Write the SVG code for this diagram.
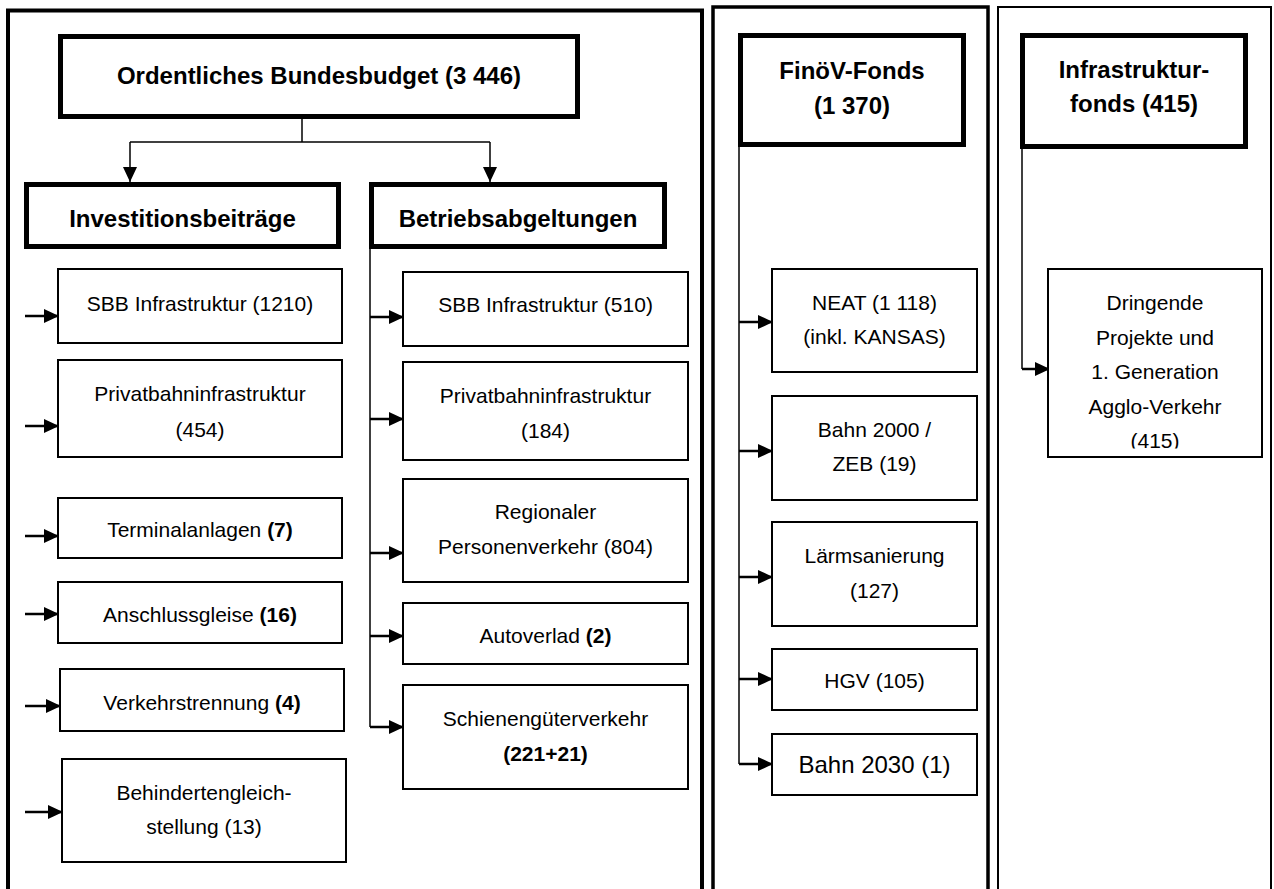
<svg xmlns="http://www.w3.org/2000/svg" width="1274" height="889" viewBox="0 0 1274 889">
<defs>
<marker id="ah" markerUnits="userSpaceOnUse" markerWidth="16" markerHeight="15" refX="15" refY="7" orient="auto">
<path d="M0,0 L15,7 L0,14 Z" fill="#000"/>
</marker>
<clipPath id="clip415"><rect x="1048" y="269" width="214" height="179.5"/></clipPath>
</defs>
<style>
.panel{fill:none;stroke:#000}
.hdr{fill:#fff;stroke:#000;stroke-width:5}
.box{fill:#fff;stroke:#000;stroke-width:2}
.t{font-family:"Liberation Sans",Arial,sans-serif;font-size:21px;fill:#000;text-anchor:middle}
.tb{font-family:"Liberation Sans",Arial,sans-serif;font-size:24px;font-weight:bold;fill:#000;text-anchor:middle}
.b{font-weight:bold}
.ln{fill:none;stroke:#000;stroke-width:1.5}
.ar{fill:none;stroke:#000;stroke-width:2.5;marker-end:url(#ah)}
</style>
<rect width="1274" height="889" fill="#fff"/>
<g id="panels">
<rect class="panel" x="8" y="10.5" width="694" height="920" stroke-width="4"/>
<rect class="panel" x="713" y="7" width="275" height="920" stroke-width="3.5"/>
<rect class="panel" x="998" y="7" width="273" height="920" stroke-width="2"/>
</g>
<g id="connectors">
<polyline class="ln" points="302,119 302,142"/>
<polyline class="ln" points="130,142 490,142"/>
<polyline class="ar" points="130,142 130,182" style="stroke-width:1.5"/>
<polyline class="ar" points="490,142 490,182" style="stroke-width:1.5"/>
<line class="ar" x1="25" y1="316" x2="59" y2="316"/>
<line class="ar" x1="25" y1="426" x2="59" y2="426"/>
<line class="ar" x1="25" y1="536" x2="59" y2="536"/>
<line class="ar" x1="25" y1="614" x2="59" y2="614"/>
<line class="ar" x1="25" y1="706" x2="61" y2="706"/>
<line class="ar" x1="25" y1="812" x2="63" y2="812"/>
<polyline class="ln" points="370,249 370,727"/>
<line class="ar" x1="370" y1="317" x2="404" y2="317"/>
<line class="ar" x1="370" y1="419" x2="404" y2="419"/>
<line class="ar" x1="370" y1="553" x2="404" y2="553"/>
<line class="ar" x1="370" y1="636" x2="404" y2="636"/>
<line class="ar" x1="370" y1="727" x2="404" y2="727"/>
<polyline class="ln" points="739,147 739,764"/>
<line class="ar" x1="739" y1="322" x2="773" y2="322"/>
<line class="ar" x1="739" y1="451" x2="773" y2="451"/>
<line class="ar" x1="739" y1="577" x2="773" y2="577"/>
<line class="ar" x1="739" y1="679" x2="773" y2="679"/>
<line class="ar" x1="739" y1="764" x2="773" y2="764"/>
<polyline class="ln" points="1022,149 1022,369"/>
<line class="ar" x1="1022" y1="369" x2="1050" y2="369"/>
</g>
<g id="n-bundesbudget"><rect class="hdr" x="60.5" y="36.5" width="517" height="80"/><text class="tb" x="319" y="84">Ordentliches Bundesbudget (3 446)</text></g>
<g id="n-investition"><rect class="hdr" x="26.5" y="184.5" width="312" height="62"/><text class="tb" x="182.5" y="227">Investitionsbeiträge</text></g>
<g id="n-betrieb"><rect class="hdr" x="371.5" y="184.5" width="293" height="62"/><text class="tb" x="518" y="227">Betriebsabgeltungen</text></g>
<g id="n-sbb1210"><rect class="box" x="58" y="269" width="284" height="74"/><text class="t" x="200" y="310.5">SBB Infrastruktur (1210)</text></g>
<g id="n-privat454"><rect class="box" x="58" y="360" width="284" height="97"/><text class="t" x="200" y="400.5">Privatbahninfrastruktur</text><text class="t" x="200" y="436.5">(454)</text></g>
<g id="n-terminal"><rect class="box" x="58" y="498" width="284" height="60"/><text class="t" x="200" y="536.5">Terminalanlagen <tspan class="b">(7)</tspan></text></g>
<g id="n-anschluss"><rect class="box" x="58" y="582" width="284" height="61"/><text class="t" x="200" y="621.5">Anschlussgleise <tspan class="b">(16)</tspan></text></g>
<g id="n-verkehrstrennung"><rect class="box" x="60" y="669" width="284" height="62"/><text class="t" x="202" y="709.5">Verkehrstrennung <tspan class="b">(4)</tspan></text></g>
<g id="n-behinderten"><rect class="box" x="62" y="759" width="284" height="103"/><text class="t" x="204" y="799.5">Behindertengleich-</text><text class="t" x="204" y="833.5">stellung (13)</text></g>
<g id="n-sbb510"><rect class="box" x="403" y="272" width="285" height="74"/><text class="t" x="545.5" y="311.5">SBB Infrastruktur (510)</text></g>
<g id="n-privat184"><rect class="box" x="403" y="362" width="285" height="98"/><text class="t" x="545.5" y="402.5">Privatbahninfrastruktur</text><text class="t" x="545.5" y="437.5">(184)</text></g>
<g id="n-regional"><rect class="box" x="403" y="479" width="285" height="103"/><text class="t" x="545.5" y="518.5">Regionaler</text><text class="t" x="545.5" y="553.5">Personenverkehr (804)</text></g>
<g id="n-autoverlad"><rect class="box" x="403" y="603" width="285" height="61"/><text class="t" x="545.5" y="642.5">Autoverlad <tspan class="b">(2)</tspan></text></g>
<g id="n-schiene"><rect class="box" x="403" y="685" width="285" height="104"/><text class="t" x="545.5" y="725.5">Schienengüterverkehr</text><text class="t b" x="545.5" y="760.5">(221+21)</text></g>
<g id="n-finoev"><rect class="hdr" x="740.5" y="35.5" width="223" height="109"/><text class="tb" x="852" y="78.6">FinöV-Fonds</text><text class="tb" x="852" y="113.6">(1 370)</text></g>
<g id="n-neat"><rect class="box" x="772" y="269" width="205" height="103"/><text class="t" x="874.5" y="309.5">NEAT (1 118)</text><text class="t" x="874.5" y="343.5">(inkl. KANSAS)</text></g>
<g id="n-bahn2000"><rect class="box" x="772" y="396" width="205" height="104"/><text class="t" x="874.5" y="436.5">Bahn 2000 /</text><text class="t" x="874.5" y="470.5">ZEB (19)</text></g>
<g id="n-laerm"><rect class="box" x="772" y="522" width="205" height="104"/><text class="t" x="874.5" y="562.5">Lärmsanierung</text><text class="t" x="874.5" y="597.5">(127)</text></g>
<g id="n-hgv"><rect class="box" x="772" y="649" width="205" height="61"/><text class="t" x="874.5" y="687.5">HGV (105)</text></g>
<g id="n-bahn2030"><rect class="box" x="772" y="734" width="205" height="61"/><text class="t" x="874.5" y="772.6" style="font-size:24px">Bahn 2030 (1)</text></g>
<g id="n-infrafonds"><rect class="hdr" x="1022.5" y="35.5" width="223" height="111"/><text class="tb" x="1134" y="77.6">Infrastruktur-</text><text class="tb" x="1134" y="111.6">fonds (415)</text></g>
<g id="n-dringend"><rect class="box" x="1048" y="269" width="214" height="188"/><g clip-path="url(#clip415)"><text class="t" x="1155" y="309.5">Dringende</text><text class="t" x="1155" y="344.5">Projekte und</text><text class="t" x="1155" y="378.5">1. Generation</text><text class="t" x="1155" y="413.5">Agglo-Verkehr</text><text class="t" x="1155" y="447.5">(415)</text></g></g>
</svg>
